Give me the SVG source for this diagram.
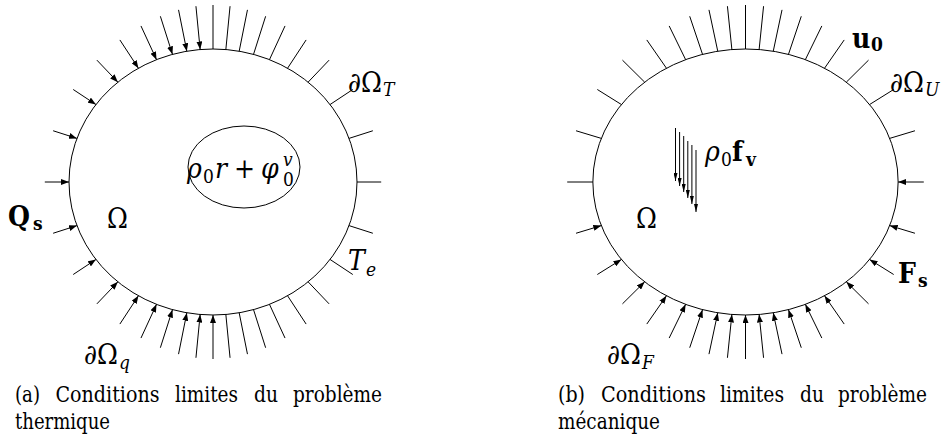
<svg xmlns="http://www.w3.org/2000/svg" width="945" height="441" viewBox="0 0 945 441" font-family="'DejaVu Serif Condensed', 'DejaVu Serif', serif">
<defs>
<marker id="ah" viewBox="0 0 8 6" refX="8" refY="3" markerWidth="8" markerHeight="6" markerUnits="userSpaceOnUse" orient="auto"><path d="M0,0 L8,3 L0,6 z" fill="#000"/></marker>
<marker id="ahs" viewBox="0 0 8 4" refX="8" refY="2" markerWidth="8" markerHeight="4" markerUnits="userSpaceOnUse" orient="auto"><path d="M0,0 L8,2 L0,4 z" fill="#000"/></marker>
</defs>
<style>
.sh{fill:none;stroke:#000;stroke-width:1}
.tk line{stroke:#000;stroke-width:1}
.ar line{stroke:#000;stroke-width:1;marker-end:url(#ah)}
.fv line{stroke:#000;stroke-width:1;marker-end:url(#ahs)}
.m{font-size:28px}
.sb{font-size:19px}
.i{font-style:italic}
.b{font-weight:bold}
.cap{font-size:21.5px}
</style>
<rect width="945" height="441" fill="#fff"/>

<!-- (a) thermal problem -->
<g id="domain-a"><ellipse class="sh" cx="213" cy="182" rx="144" ry="133"/></g>
<g id="source-a">
<ellipse class="sh" cx="244" cy="167" rx="56" ry="41"/>
<text class="m"><tspan class="i" x="187" y="178">ρ</tspan><tspan class="sb" x="203" y="183">0</tspan><tspan class="i" x="215" y="178">r</tspan><tspan x="234" y="178">+</tspan><tspan class="i" x="261" y="178">φ</tspan><tspan class="sb i" x="283" y="166">v</tspan><tspan class="sb" x="283" y="186">0</tspan></text>
</g>
<g id="connectors-a">
<g class="tk">
<line x1="213" y1="49" x2="213" y2="5"/>
<line x1="225.85" y1="49.53" x2="230.05" y2="6.2"/>
<line x1="239.18" y1="51.21" x2="247.46" y2="9.87"/>
<line x1="253.53" y1="54.37" x2="265.63" y2="16.27"/>
<line x1="269.47" y1="59.65" x2="285.02" y2="25.94"/>
<line x1="287.57" y1="68.23" x2="306.11" y2="39.94"/>
<line x1="308.12" y1="82.15" x2="329.08" y2="60.15"/>
<line x1="330.05" y1="104.54" x2="352.79" y2="89.49"/>
<line x1="349.04" y1="138.39" x2="372.87" y2="130.75"/>
<line x1="357" y1="182" x2="381.2" y2="182"/>
<line x1="349.04" y1="225.61" x2="372.87" y2="233.25"/>
<line x1="330.05" y1="259.46" x2="352.79" y2="274.51"/>
<line x1="308.12" y1="281.85" x2="329.08" y2="303.85"/>
<line x1="287.57" y1="295.77" x2="306.11" y2="324.06"/>
<line x1="269.47" y1="304.35" x2="285.02" y2="338.06"/>
<line x1="253.53" y1="309.63" x2="265.63" y2="347.73"/>
<line x1="239.18" y1="312.79" x2="247.46" y2="354.13"/>
<line x1="225.85" y1="314.47" x2="230.05" y2="357.8"/>
</g>
<g class="ar">
<line x1="213" y1="359" x2="213" y2="315"/>
<line x1="195.95" y1="357.8" x2="200.15" y2="314.47"/>
<line x1="178.54" y1="354.13" x2="186.82" y2="312.79"/>
<line x1="160.37" y1="347.73" x2="172.47" y2="309.63"/>
<line x1="140.98" y1="338.06" x2="156.53" y2="304.35"/>
<line x1="119.89" y1="324.06" x2="138.43" y2="295.77"/>
<line x1="96.92" y1="303.85" x2="117.88" y2="281.85"/>
<line x1="73.21" y1="274.51" x2="95.95" y2="259.46"/>
<line x1="53.13" y1="233.25" x2="76.96" y2="225.61"/>
<line x1="44.8" y1="182" x2="69" y2="182"/>
<line x1="53.13" y1="130.75" x2="76.96" y2="138.39"/>
<line x1="73.21" y1="89.49" x2="95.95" y2="104.54"/>
<line x1="96.92" y1="60.15" x2="117.88" y2="82.15"/>
<line x1="119.89" y1="39.94" x2="138.43" y2="68.23"/>
<line x1="140.98" y1="25.94" x2="156.53" y2="59.65"/>
<line x1="160.37" y1="16.27" x2="172.47" y2="54.37"/>
<line x1="178.54" y1="9.87" x2="186.82" y2="51.21"/>
<line x1="195.95" y1="6.2" x2="200.15" y2="49.53"/>
</g>
</g>
<g id="labels-a">
<text class="m" x="348" y="92">∂Ω<tspan class="sb i" dx="1" dy="4">T</tspan></text>
<text class="m"><tspan class="i" x="348" y="270">T</tspan><tspan class="sb i" x="366" y="276">e</tspan></text>
<text class="m" x="84" y="364">∂Ω<tspan class="sb i" dx="1" dy="5">q</tspan></text>
<text class="m b"><tspan x="8" y="226">Q</tspan><tspan class="sb" x="33" y="230">s</tspan></text>
<text class="m" x="107" y="228">Ω</text>
</g>
<g id="caption-a">
<text class="cap" x="15" y="402" textLength="25" lengthAdjust="spacingAndGlyphs">(a)</text>
<text class="cap" x="55.5" y="402" textLength="104" lengthAdjust="spacingAndGlyphs">Conditions</text>
<text class="cap" x="175" y="402" textLength="63" lengthAdjust="spacingAndGlyphs">limites</text>
<text class="cap" x="254" y="402" textLength="24" lengthAdjust="spacingAndGlyphs">du</text>
<text class="cap" x="293" y="402" textLength="89" lengthAdjust="spacingAndGlyphs">problème</text>
<text class="cap" x="15" y="429" textLength="95" lengthAdjust="spacingAndGlyphs">thermique</text>
</g>

<!-- (b) mechanical problem -->
<g id="domain-b"><ellipse class="sh" cx="745.5" cy="182" rx="152.64" ry="133"/></g>
<g id="body-force-b">
<g class="fv">
<line x1="675.5" y1="128" x2="675.5" y2="181"/>
<line x1="679.6" y1="132" x2="679.6" y2="186"/>
<line x1="683.7" y1="136" x2="683.7" y2="192"/>
<line x1="687.8" y1="141" x2="687.8" y2="198"/>
<line x1="691.9" y1="145" x2="691.9" y2="204"/>
<line x1="696" y1="150" x2="696" y2="212"/>
</g>
<text class="m"><tspan class="i" x="705" y="161">ρ</tspan><tspan class="sb" x="721" y="166">0</tspan><tspan class="b" x="732" y="161">f</tspan><tspan class="sb b" x="746" y="166">v</tspan></text>
</g>
<g id="connectors-b">
<g class="tk">
<line x1="745.5" y1="49" x2="745.5" y2="5"/>
<line x1="759.12" y1="49.53" x2="763.57" y2="6.2"/>
<line x1="773.25" y1="51.21" x2="782.03" y2="9.87"/>
<line x1="788.46" y1="54.37" x2="801.29" y2="16.27"/>
<line x1="805.36" y1="59.65" x2="821.84" y2="25.94"/>
<line x1="824.54" y1="68.23" x2="844.2" y2="39.94"/>
<line x1="846.33" y1="82.15" x2="868.54" y2="60.15"/>
<line x1="869.57" y1="104.54" x2="893.68" y2="89.49"/>
<line x1="889.7" y1="138.39" x2="914.96" y2="130.75"/>
<line x1="592.86" y1="182" x2="567.21" y2="182"/>
<line x1="601.3" y1="138.39" x2="576.04" y2="130.75"/>
<line x1="621.43" y1="104.54" x2="597.32" y2="89.49"/>
<line x1="644.67" y1="82.15" x2="622.46" y2="60.15"/>
<line x1="666.46" y1="68.23" x2="646.8" y2="39.94"/>
<line x1="685.64" y1="59.65" x2="669.16" y2="25.94"/>
<line x1="702.54" y1="54.37" x2="689.71" y2="16.27"/>
<line x1="717.75" y1="51.21" x2="708.97" y2="9.87"/>
<line x1="731.88" y1="49.53" x2="727.43" y2="6.2"/>
</g>
<g class="ar">
<line x1="923.79" y1="182" x2="898.14" y2="182"/>
<line x1="914.96" y1="233.25" x2="889.7" y2="225.61"/>
<line x1="893.68" y1="274.51" x2="869.57" y2="259.46"/>
<line x1="868.54" y1="303.85" x2="846.33" y2="281.85"/>
<line x1="844.2" y1="324.06" x2="824.54" y2="295.77"/>
<line x1="821.84" y1="338.06" x2="805.36" y2="304.35"/>
<line x1="801.29" y1="347.73" x2="788.46" y2="309.63"/>
<line x1="782.03" y1="354.13" x2="773.25" y2="312.79"/>
<line x1="763.57" y1="357.8" x2="759.12" y2="314.47"/>
<line x1="745.5" y1="359" x2="745.5" y2="315"/>
<line x1="727.43" y1="357.8" x2="731.88" y2="314.47"/>
<line x1="708.97" y1="354.13" x2="717.75" y2="312.79"/>
<line x1="689.71" y1="347.73" x2="702.54" y2="309.63"/>
<line x1="669.16" y1="338.06" x2="685.64" y2="304.35"/>
<line x1="646.8" y1="324.06" x2="666.46" y2="295.77"/>
<line x1="622.46" y1="303.85" x2="644.67" y2="281.85"/>
<line x1="597.32" y1="274.51" x2="621.43" y2="259.46"/>
<line x1="576.04" y1="233.25" x2="601.3" y2="225.61"/>
</g>
</g>
<g id="labels-b">
<text class="m b"><tspan x="852" y="48">u</tspan><tspan class="sb" x="871" y="51">0</tspan></text>
<text class="m" x="890" y="92">∂Ω<tspan class="sb i" dx="1" dy="4">U</tspan></text>
<text class="m b"><tspan x="898" y="283">F</tspan><tspan class="sb" x="918" y="287">s</tspan></text>
<text class="m" x="607" y="364">∂Ω<tspan class="sb i" dx="1" dy="5">F</tspan></text>
<text class="m" x="636" y="228">Ω</text>
</g>
<g id="caption-b">
<text class="cap" x="558" y="402" textLength="27" lengthAdjust="spacingAndGlyphs">(b)</text>
<text class="cap" x="601" y="402" textLength="105" lengthAdjust="spacingAndGlyphs">Conditions</text>
<text class="cap" x="720" y="402" textLength="64" lengthAdjust="spacingAndGlyphs">limites</text>
<text class="cap" x="800" y="402" textLength="24" lengthAdjust="spacingAndGlyphs">du</text>
<text class="cap" x="838" y="402" textLength="89" lengthAdjust="spacingAndGlyphs">problème</text>
<text class="cap" x="558" y="429" textLength="102" lengthAdjust="spacingAndGlyphs">mécanique</text>
</g>
</svg>
